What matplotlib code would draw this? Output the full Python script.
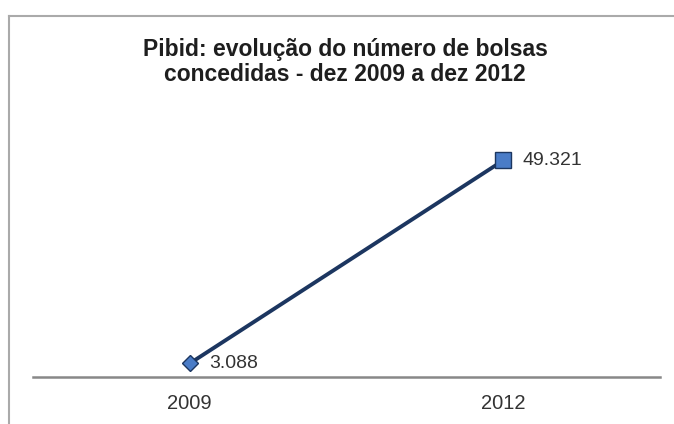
import matplotlib
matplotlib.use("Agg")
import matplotlib.pyplot as plt
from matplotlib.lines import Line2D

years = ["2009", "2012"]
values = [3088, 49321]
value_labels = ["3.088", "49.321"]
markers = ["D", "s"]

plt.rcParams['font.family'] = ['Liberation Sans', 'DejaVu Sans']

fig = plt.figure(figsize=(6.74, 4.24), dpi=100)
ax = fig.add_axes([33/674, (424-377)/424, 627/674, (377-120)/424])

x = list(range(len(years)))
ax.plot(x, values, color="#1c3660", lw=2.8, zorder=2)
for xi, v, m, lab in zip(x, values, markers, value_labels):
    ms = 8 if m == "D" else 11
    ax.plot([xi], [v], marker=m, ms=ms, mfc="#4a7cc7", mec="#1c3660", mew=1.0, zorder=3, ls="none")
    ax.annotate(lab, (xi, v), xytext=(14, 0), textcoords="offset points",
                va="center", ha="left", fontsize=14, color="#333333")

ax.set_xlim(-0.5, 1.5)
ax.set_ylim(0, (377-120)/((363-160)/(49321-3088)))
ax.set_xticks(x)
ax.set_xticklabels(years, fontsize=14.5, color="#333333")
ax.tick_params(axis="x", length=0, pad=12)
ax.set_yticks([])
for s in ["top", "right", "left"]:
    ax.spines[s].set_visible(False)
ax.spines["bottom"].set_color("#888888")
ax.spines["bottom"].set_linewidth(1.8)

fig.text(345/674, 1-62/424, "Pibid: evolução do número de bolsas\nconcedidas - dez 2009 a dez 2012",
         ha="center", va="center", fontsize=16.5, fontweight="bold", color="#1e1e1e", linespacing=1.08)

fig.add_artist(Line2D([9/674, 1], [1-16/424, 1-16/424], color="#aaaaaa", lw=1.5, transform=fig.transFigure))
fig.add_artist(Line2D([9/674, 9/674], [0, 1-16/424], color="#aaaaaa", lw=1.5, transform=fig.transFigure))

fig.savefig("out.png", dpi=100, facecolor="white")
